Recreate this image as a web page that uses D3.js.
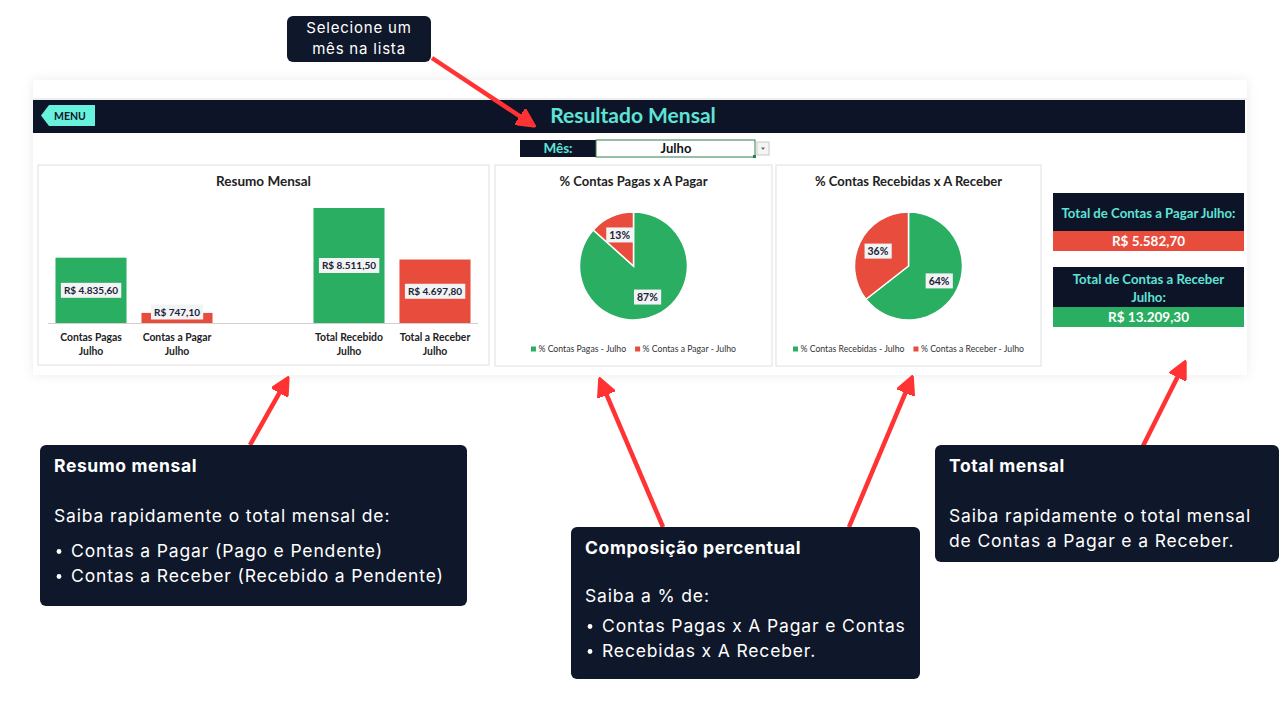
<!DOCTYPE html>
<html>
<head>
<meta charset="utf-8">
<script src="https://cdn.jsdelivr.net/npm/d3@7"></script>
<style>
  html, body { margin: 0; padding: 0; background: #fff; }
  svg { display: block; }
  .xl { font-family: Lato, "Open Sans", sans-serif; }
  .note { font-family: Inter, "Open Sans", sans-serif; }
</style>
</head>
<body>
<div id="root"></div>
<script>
// Mês selecionado
const MONTH = "Julho";

// Resumo mensal (barras) - o terceiro é a coluna vazia entre pagar e receber
const barCategories = [["Contas Pagas", "Julho"], ["Contas a Pagar", "Julho"], ["", ""], ["Total Recebido", "Julho"], ["Total a Receber", "Julho"]];
const barValues = [4835.60, 747.10, null, 8511.50, 4697.80];
const barKinds = ["ok", "pend", "none", "ok", "pend"];

// Pizzas
const pagarLabels = ["% Contas Pagas - Julho", "% Contas a Pagar - Julho"];
const pagarValues = [4835.60, 747.10];
const receberLabels = ["% Contas Recebidas - Julho", "% Contas a Receber - Julho"];
const receberValues = [8511.50, 4697.80];

const GREEN = "#2aae62";
const RED = "#e74c3c";
const DARK = "#0d1428";
const TEAL = "#5fe3d6";

const brl = d3.formatLocale({ decimal: ",", thousands: ".", grouping: [3], currency: ["R$ ", ""] }).format("$,.2f");

const width = 1280, height = 720;
const svg = d3.select("#root").append("svg")
  .attr("width", width)
  .attr("height", height);

// soft shadow around the screenshot
const defs = svg.append("defs");
const shadow = defs.append("filter").attr("id", "shadow").attr("x", "-5%").attr("y", "-10%").attr("width", "110%").attr("height", "120%");
shadow.append("feDropShadow").attr("dx", 0).attr("dy", 0).attr("stdDeviation", 6).attr("flood-color", "#000").attr("flood-opacity", 0.08);

// ---------- screenshot of the sheet ----------
svg.append("rect").attr("x", 33).attr("y", 80).attr("width", 1214).attr("height", 295)
  .attr("fill", "#fff").attr("filter", "url(#shadow)");
svg.append("line").attr("x1", 33).attr("x2", 1247).attr("y1", 99).attr("y2", 99).attr("stroke", "#dcdcdc");

// header
svg.append("rect").attr("x", 33).attr("y", 100).attr("width", 1212).attr("height", 33).attr("fill", DARK);
svg.append("text").attr("class", "xl").attr("x", 633).attr("y", 122.5)
  .attr("text-anchor", "middle").attr("font-size", 21).attr("font-weight", 700).attr("fill", TEAL)
  .text("Resultado Mensal");

// menu button
svg.append("path").attr("d", "M41,115.5 L49,105 L95,105 L95,126 L49,126 Z").attr("fill", "#66f2dc");
svg.append("text").attr("class", "xl").attr("x", 70).attr("y", 119.5)
  .attr("text-anchor", "middle").attr("font-size", 10.5).attr("font-weight", 700).attr("fill", DARK)
  .text("MENU");

// month selector
svg.append("rect").attr("x", 520).attr("y", 140).attr("width", 76).attr("height", 17).attr("fill", DARK);
svg.append("text").attr("class", "xl").attr("x", 558).attr("y", 153)
  .attr("text-anchor", "middle").attr("font-size", 13.5).attr("font-weight", 700).attr("fill", TEAL)
  .text("Mês:");
svg.append("rect").attr("x", 596).attr("y", 140).attr("width", 159).attr("height", 17)
  .attr("fill", "#fff").attr("stroke", "#2e7d4f").attr("stroke-width", 1);
svg.append("rect").attr("x", 753).attr("y", 155).attr("width", 3).attr("height", 3).attr("fill", "#2e7d4f");
svg.append("text").attr("class", "xl").attr("x", 676).attr("y", 153)
  .attr("text-anchor", "middle").attr("font-size", 13).attr("font-weight", 700).attr("fill", "#111")
  .text(MONTH);
svg.append("rect").attr("x", 757).attr("y", 142).attr("width", 12).attr("height", 13)
  .attr("fill", "#f4f4f4").attr("stroke", "#c8c8c8");
svg.append("path").attr("d", "M761,147.5 L765,147.5 L763,150 Z").attr("fill", "#666");

// panels
function panel(x, y, w, h, title, size) {
  const g = svg.append("g");
  g.append("rect").attr("x", x).attr("y", y).attr("width", w).attr("height", h)
    .attr("fill", "#fff").attr("stroke", "#e0e0e0");
  g.append("text").attr("class", "xl").attr("x", x + w / 2).attr("y", y + 20.5)
    .attr("text-anchor", "middle").attr("font-size", size).attr("font-weight", 700).attr("fill", "#222")
    .text(title);
  return g;
}

function labelBox(g, x, y, txt, size) {
  const lg = g.append("g");
  const t = lg.append("text").attr("class", "xl").attr("x", x).attr("y", y + size * 0.36)
    .attr("text-anchor", "middle").attr("font-size", size).attr("font-weight", 700).attr("fill", "#1b2233")
    .text(txt);
  const bb = t.node().getBBox();
  lg.insert("rect", "text").attr("x", bb.x - 3).attr("y", y - 7.5).attr("width", bb.width + 6).attr("height", 15)
    .attr("fill", "#f1f3f5");
}

// ---------- Resumo Mensal ----------
const barPanel = panel(38, 165, 451, 200, "Resumo Mensal", 13.5);
const baseY = 323;
const x = d3.scaleBand().domain(d3.range(barValues.length)).range([48, 478])
  .paddingInner(0.174).paddingOuter(0.087);
const y = d3.scaleLinear().domain([0, 9000]).range([baseY, baseY - 9000 * 115 / 8511.5]);

barPanel.selectAll(".bar")
  .data(barValues.map((v, i) => ({ v, i })).filter(d => d.v != null))
  .join("rect")
  .attr("class", "bar")
  .attr("x", d => x(d.i))
  .attr("y", d => y(d.v))
  .attr("width", x.bandwidth())
  .attr("height", d => baseY - y(d.v))
  .attr("fill", d => barKinds[d.i] === "ok" ? GREEN : RED);

barPanel.append("line").attr("x1", 48).attr("x2", 478).attr("y1", baseY + 0.5).attr("y2", baseY + 0.5)
  .attr("stroke", "#d0d0d0");

barValues.forEach((v, i) => {
  if (v == null) return;
  const cy = Math.min((y(v) + baseY) / 2, baseY - 11);
  labelBox(barPanel, x(i) + x.bandwidth() / 2, cy, brl(v), 10);
});

barCategories.forEach((lines, i) => {
  const t = barPanel.append("text").attr("class", "xl")
    .attr("text-anchor", "middle").attr("font-size", 10.4).attr("font-weight", 700).attr("fill", "#222");
  lines.forEach((ln, k) => {
    t.append("tspan").attr("x", x(i) + x.bandwidth() / 2).attr("y", 341 + k * 14).text(ln);
  });
});

// ---------- Pizzas ----------
function pieChart(px, pw, title, labels, values) {
  const g = panel(px, 165, pw, 201, title, 13);
  const cx = px + pw / 2, cy = 266, r = 54;
  const pie = d3.pie().sort(null).value(d => d);
  const arc = d3.arc().innerRadius(0).outerRadius(r);
  const lab = d3.arc().innerRadius(68 * 0.5).outerRadius(68 * 0.5);
  const total = d3.sum(values);
  const colors = [GREEN, RED];
  const arcs = pie(values);
  const pg = g.append("g").attr("transform", `translate(${cx},${cy})`);
  pg.selectAll("path").data(arcs).join("path")
    .attr("d", arc).attr("fill", (d, i) => colors[i]).attr("stroke", "#fff").attr("stroke-width", 1.5);
  arcs.forEach(a => {
    const [lx, ly] = lab.centroid(a);
    labelBox(g, cx + lx, cy + ly, d3.format(".0%")(a.data / total), 10.5);
  });
  // legend
  const lgd = g.append("g");
  const items = [];
  labels.forEach((l, i) => {
    const it = lgd.append("g");
    it.append("rect").attr("x", 0).attr("y", -3.5).attr("width", 5).attr("height", 5).attr("fill", colors[i]);
    const t = it.append("text").attr("class", "xl").attr("x", 7.5).attr("y", 1.5)
      .attr("font-size", 8.7).attr("fill", "#333").text(l);
    items.push({ it, w: 7.5 + t.node().getComputedTextLength() });
  });
  const gap = 9;
  const totalW = d3.sum(items, d => d.w) + gap * (items.length - 1);
  let sx = cx - totalW / 2;
  items.forEach(d => {
    d.it.attr("transform", `translate(${sx},350)`);
    sx += d.w + gap;
  });
}

pieChart(495, 277, "% Contas Pagas x A Pagar", pagarLabels, pagarValues);
pieChart(776, 265, "% Contas Recebidas x A Receber", receberLabels, receberValues);

// ---------- Totais ----------
function totalBox(y0, lines, hTop, value, color) {
  svg.append("rect").attr("x", 1053).attr("y", y0).attr("width", 191).attr("height", hTop).attr("fill", DARK);
  const t = svg.append("text").attr("class", "xl").attr("text-anchor", "middle")
    .attr("font-size", 13.2).attr("font-weight", 700).attr("fill", TEAL);
  lines.forEach((ln, k) => {
    t.append("tspan").attr("x", 1148.5).attr("y", y0 + (lines.length === 1 ? 24.5 : 16.5 + k * 18)).text(ln);
  });
  svg.append("rect").attr("x", 1053).attr("y", y0 + hTop).attr("width", 191).attr("height", 20).attr("fill", color);
  svg.append("text").attr("class", "xl").attr("x", 1148.5).attr("y", y0 + hTop + 15)
    .attr("text-anchor", "middle").attr("font-size", 13.5).attr("font-weight", 700).attr("fill", "#fff")
    .text(value);
}
totalBox(193, ["Total de Contas a Pagar " + MONTH + ":"], 38, brl(d3.sum(pagarValues)), RED);
totalBox(267, ["Total de Contas a Receber", MONTH + ":"], 40, brl(d3.sum(receberValues)), GREEN);

// ---------- Anotações ----------
const ARROW = "#ff3333";
defs.append("marker").attr("id", "head").attr("viewBox", "0 0 10 10").attr("refX", 5).attr("refY", 5)
  .attr("markerWidth", 4.2).attr("markerHeight", 4.2).attr("orient", "auto")
  .append("path").attr("d", "M0,0 L10,5 L0,10 Z").attr("fill", ARROW).attr("stroke", ARROW).attr("stroke-linejoin", "round");

function arrow(x1, y1, x2, y2) {
  // shorten so the head tip lands on (x2,y2)
  const dx = x2 - x1, dy = y2 - y1, len = Math.hypot(dx, dy);
  const k = (len - 10) / len;
  svg.append("line").attr("x1", x1).attr("y1", y1).attr("x2", x1 + dx * k).attr("y2", y1 + dy * k)
    .attr("stroke", ARROW).attr("stroke-width", 4.5).attr("marker-end", "url(#head)");
}

function noteBox(x0, y0, w, h, title, body, bullets, bodyY, bulletGap) {
  svg.append("rect").attr("x", x0).attr("y", y0).attr("width", w).attr("height", h).attr("rx", 6)
    .attr("fill", "#0f172a");
  svg.append("text").attr("class", "note").attr("x", x0 + 14).attr("y", y0 + 27)
    .attr("font-size", 17.5).attr("font-weight", 700).attr("letter-spacing", 0.6).attr("fill", "#fff").text(title);
  let ty = y0 + bodyY;
  body.forEach(ln => {
    svg.append("text").attr("class", "note").attr("x", x0 + 14).attr("y", ty)
      .attr("font-size", 17.5).attr("letter-spacing", 0.85).attr("fill", "#fff").text(ln);
    ty += 25;
  });
  ty += bulletGap - 25;
  bullets.forEach(ln => {
    svg.append("circle").attr("cx", x0 + 19).attr("cy", ty - 5.5).attr("r", 2.4).attr("fill", "#fff");
    svg.append("text").attr("class", "note").attr("x", x0 + 31).attr("y", ty)
      .attr("font-size", 17.5).attr("letter-spacing", 0.85).attr("fill", "#fff").text(ln);
    ty += 25;
  });
}

// tooltip at top
svg.append("rect").attr("x", 287).attr("y", 16).attr("width", 144).attr("height", 46).attr("rx", 6).attr("fill", "#0f172a");
svg.append("text").attr("class", "note").attr("x", 359).attr("y", 33).attr("text-anchor", "middle")
  .attr("font-size", 15).attr("letter-spacing", 0.8).attr("fill", "#fff").text("Selecione um");
svg.append("text").attr("class", "note").attr("x", 359).attr("y", 54).attr("text-anchor", "middle")
  .attr("font-size", 15).attr("letter-spacing", 0.8).attr("fill", "#fff").text("mês na lista");

arrow(432, 58, 536, 127);
arrow(250, 445, 289, 376);
arrow(663, 527, 599, 377);
arrow(849, 527, 913, 375);
arrow(1143, 446, 1186, 360);

noteBox(40, 445, 427, 161, "Resumo mensal", ["Saiba rapidamente o total mensal de:"],
  ["Contas a Pagar (Pago e Pendente)", "Contas a Receber (Recebido a Pendente)"], 77, 35);
noteBox(571, 527, 349, 152, "Composição percentual", ["Saiba a % de:"],
  ["Contas Pagas x A Pagar e Contas", "Recebidas x A Receber."], 75, 30);
noteBox(935, 445, 344, 117, "Total mensal", ["Saiba rapidamente o total mensal", "de Contas a Pagar e a Receber."], [], 77, 25);
</script>
</body>
</html>
